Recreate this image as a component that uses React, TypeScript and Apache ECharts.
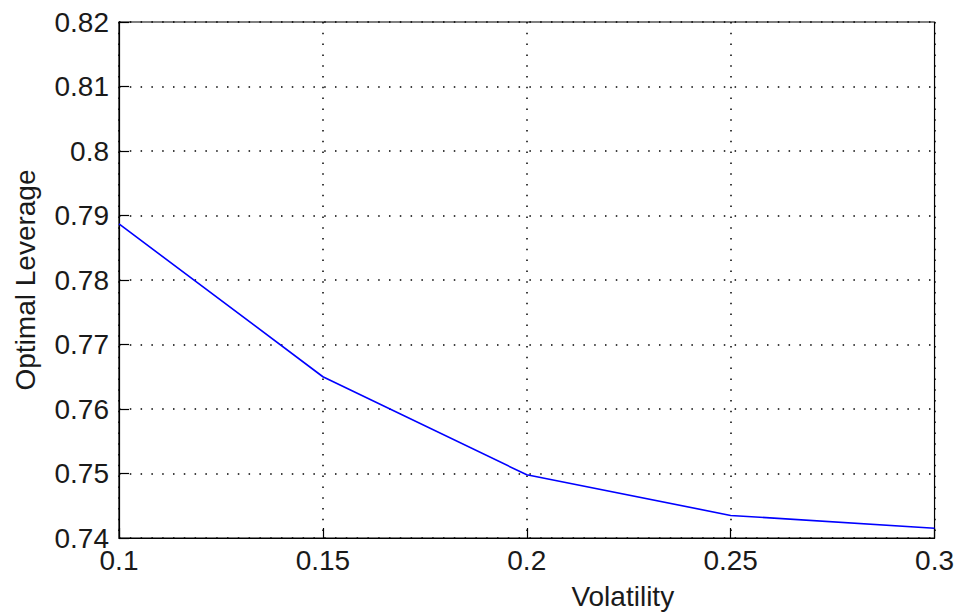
import React, { useEffect, useRef } from "react";
import * as echarts from "echarts";

const volatility = [0.1, 0.15, 0.2, 0.25, 0.3];
const leverage = [0.7887, 0.765, 0.7498, 0.7435, 0.7415];
const xAxisTitle = "Volatility";
const yAxisTitle = "Optimal Leverage";

const FONT = "Liberation Sans, Arial, sans-serif";
const TEXT = "#1a1a1a";

export default function App() {
  const ref = useRef<HTMLDivElement>(null);
  useEffect(() => {
    if (!ref.current) return;
    const chart = echarts.init(ref.current, undefined, { renderer: "svg" });
    const gridLine = {
      show: true,
      lineStyle: { color: "#000", width: 1.5, type: [1.5, 9.3] as any },
    };
    chart.setOption({
      animation: false,
      backgroundColor: "#fff",
      grid: {
        left: 119,
        right: 20,
        top: 22,
        bottom: 78,
        show: true,
        borderColor: "#000",
        borderWidth: 1.2,
        backgroundColor: "transparent",
      },
      xAxis: {
        type: "value",
        min: 0.1,
        max: 0.3,
        interval: 0.05,
        name: xAxisTitle,
        nameLocation: "middle",
        nameGap: 44,
        nameTextStyle: {
          fontFamily: FONT,
          fontSize: 28,
          color: TEXT,
          padding: [0, 0, 0, 192],
        },
        axisLine: { show: true, lineStyle: { color: "#000", width: 1.2 } },
        axisTick: { show: true, inside: true, length: 10, lineStyle: { color: "#000", width: 1.2 } },
        axisLabel: {
          fontFamily: FONT,
          fontSize: 28,
          color: TEXT,
          margin: 8,
          formatter: (v: number) => String(+v.toFixed(2)),
        },
        splitLine: gridLine,
      },
      yAxis: {
        type: "value",
        min: 0.74,
        max: 0.82,
        interval: 0.01,
        name: yAxisTitle,
        nameLocation: "middle",
        nameGap: 80,
        nameTextStyle: { fontFamily: FONT, fontSize: 28, color: TEXT },
        axisLine: { show: true, lineStyle: { color: "#000", width: 1.2 } },
        axisTick: { show: true, inside: true, length: 10, lineStyle: { color: "#000", width: 1.2 } },
        axisLabel: {
          fontFamily: FONT,
          fontSize: 28,
          color: TEXT,
          margin: 10,
          formatter: (v: number) => String(+v.toFixed(2)),
        },
        splitLine: gridLine,
      },
      series: [
        {
          type: "line",
          data: volatility.map((x, i) => [x, leverage[i]]),
          showSymbol: false,
          symbol: "none",
          lineStyle: { color: "#0000ff", width: 1.6 },
        },
      ],
    });
    return () => chart.dispose();
  }, []);
  return <div ref={ref} style={{ width: 957, height: 616, position: "absolute", left: 0, top: 0 }} />;
}
